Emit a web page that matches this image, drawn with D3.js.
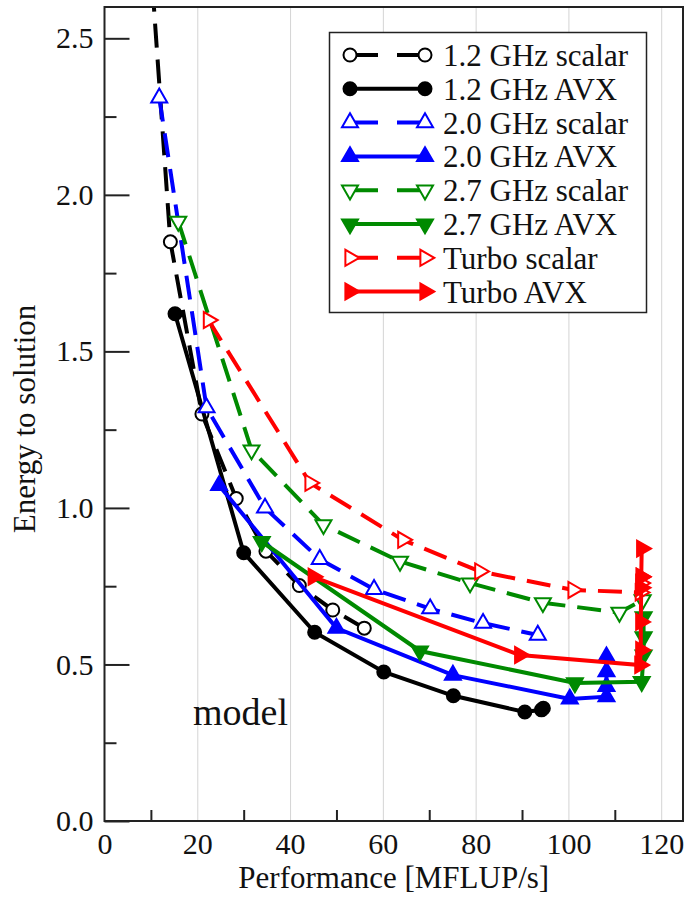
<!DOCTYPE html>
<html>
<head>
<meta charset="utf-8">
<script src="https://cdn.jsdelivr.net/npm/d3@7"></script>
<style>
  body { margin: 0; background: #fff; }
  text { font-family: "Liberation Serif", "Times New Roman", serif; fill: #111; }
</style>
</head>
<body>
<svg id="chart"></svg>
<script>
// ---- data ----
const seriesNames = ["1.2 GHz scalar", "1.2 GHz AVX", "2.0 GHz scalar", "2.0 GHz AVX",
                     "2.7 GHz scalar", "2.7 GHz AVX", "Turbo scalar", "Turbo AVX"];

const ghz12Scalar = [[7.1,3.35],[14.2,1.85],[21.0,1.30],[28.4,1.03],[34.8,0.862],[42.0,0.752],[49.2,0.674],[56.0,0.616]];
const ghz12Avx    = [[15.2,1.62],[30.0,0.857],[45.3,0.603],[60.2,0.476],[75.2,0.40],[90.6,0.348],[94.2,0.355],[94.6,0.36]];
const ghz20Scalar = [[11.8,2.31],[22.0,1.32],[34.6,1.0],[46.4,0.836],[58.1,0.74],[70.2,0.678],[81.6,0.632],[93.4,0.594]];
const ghz20Avx    = [[24.7,1.072],[50.0,0.616],[75.1,0.466],[100.3,0.39],[108.2,0.397],[108.2,0.43],[108.2,0.477],[108.2,0.525]];
const ghz27Scalar = [[15.9,1.915],[31.7,1.185],[47.2,0.946],[63.7,0.829],[78.8,0.76],[94.5,0.697],[111.0,0.666],[116.0,0.706]];
const ghz27Avx    = [[33.9,0.892],[68.0,0.543],[101.4,0.441],[115.8,0.445],[116.2,0.53],[116.2,0.588],[116.2,0.652]];
const turboScalar = [[22.4,1.60],[44.3,1.08],[64.3,0.898],[80.9,0.797],[101.0,0.738],[115.5,0.73],[115.6,0.76],[115.7,0.78]];
const turboAvx    = [[45.0,0.78],[89.5,0.53],[115.4,0.498],[115.6,0.546],[115.6,0.636],[115.7,0.745],[115.7,0.78],[115.8,0.87]];

const xTicks = [0, 20, 40, 60, 80, 100, 120];
const xMinorTicks = [10, 30, 50, 70, 90, 110];
const yTicks = [0, 0.5, 1.0, 1.5, 2.0, 2.5];
const yMinorTicks = [0.25, 0.75, 1.25, 1.75, 2.25];

const allSeries = [ghz12Scalar, ghz12Avx, ghz20Scalar, ghz20Avx, ghz27Scalar, ghz27Avx, turboScalar, turboAvx];
const colors = ["#000", "#000", "#0000ff", "#0000ff", "#008a00", "#008a00", "#ff0000", "#ff0000"];
const shapes = ["circle", "circle", "up", "up", "down", "down", "right", "right"];

const W = 687, H = 897;
const pLeft = 104.5, pRight = 683, pTop = 7, pBottom = 821;

const svg = d3.select("#chart").attr("width", W).attr("height", H);

const x = d3.scaleLinear().domain([0, 124.7]).range([pLeft, pRight]);
const y = d3.scaleLinear().domain([0, 2.6]).range([pBottom, pTop]);

// vertical grid lines
svg.append("g")
    .attr("transform", "translate(0," + pBottom + ")")
    .call(d3.axisBottom(x).tickValues(xTicks.slice(1)).tickSize(-(pBottom - pTop)).tickFormat(""))
    .call(g => g.select(".domain").remove())
    .selectAll("line").attr("stroke", "#d4d4d4").attr("stroke-width", 1);

// clip for the data
svg.append("clipPath").attr("id", "clip")
  .append("rect").attr("x", pLeft).attr("y", pTop).attr("width", pRight - pLeft).attr("height", pBottom - pTop);

function markerPath(shape) {
  const s = 8;
  if (shape === "circle") return d3.symbol(d3.symbolCircle, Math.PI * 6.5 * 6.5)();
  const h = s * Math.sqrt(3);
  if (shape === "up") return `M0,${-h*2/3}L${s},${h/3}L${-s},${h/3}Z`;
  if (shape === "down") return `M0,${h*2/3}L${s},${-h/3}L${-s},${-h/3}Z`;
  return `M${h*2/3},0L${-h/3},${s}L${-h/3},${-s}Z`;
}

const line = d3.line().x(d => x(d[0])).y(d => y(d[1]));
const plot = svg.append("g").attr("clip-path", "url(#clip)");

allSeries.forEach((pts, i) => {
  const dashed = i % 2 === 0;
  plot.append("path")
      .datum(pts)
      .attr("d", line)
      .attr("fill", "none")
      .attr("stroke", colors[i])
      .attr("stroke-width", 4)
      .attr("stroke-dasharray", dashed ? "24,12" : null);
  plot.selectAll(null)
    .data(pts)
    .join("path")
      .attr("transform", d => `translate(${x(d[0])},${y(d[1])})`)
      .attr("d", markerPath(shapes[i]))
      .attr("fill", dashed ? "#fff" : colors[i])
      .attr("stroke", colors[i])
      .attr("stroke-width", 2);
});

// y axis: major ticks with labels, minor ticks, pointing inward
svg.append("g")
    .attr("transform", "translate(" + pLeft + ",0)")
    .call(d3.axisLeft(y).tickValues(yTicks).tickSize(-25).tickPadding(11).tickFormat(d3.format(".1f")))
    .call(g => g.select(".domain").remove())
    .call(g => g.selectAll("line").attr("stroke", "#222").attr("stroke-width", 2))
    .call(g => g.selectAll("text").attr("font-size", 30).attr("font-family", "Liberation Serif").attr("fill", "#111"));
svg.append("g")
    .attr("transform", "translate(" + pLeft + ",0)")
    .call(d3.axisLeft(y).tickValues(yMinorTicks).tickSize(-12).tickFormat(""))
    .call(g => g.select(".domain").remove())
    .selectAll("line").attr("stroke", "#222").attr("stroke-width", 2);

// x axis
svg.append("g")
    .attr("transform", "translate(0," + pBottom + ")")
    .call(d3.axisBottom(x).tickValues(xTicks).tickSize(0).tickPadding(12))
    .call(g => g.select(".domain").remove())
    .call(g => g.selectAll("text").attr("font-size", 30).attr("font-family", "Liberation Serif").attr("fill", "#111"));
svg.append("g")
    .attr("transform", "translate(0," + pBottom + ")")
    .call(d3.axisBottom(x).tickValues(xMinorTicks).tickSize(-11).tickFormat(""))
    .call(g => g.select(".domain").remove())
    .selectAll("line").attr("stroke", "#222").attr("stroke-width", 2);

// frame
svg.append("rect")
    .attr("x", pLeft).attr("y", pTop).attr("width", pRight - pLeft).attr("height", pBottom - pTop)
    .attr("fill", "none").attr("stroke", "#222").attr("stroke-width", 2);

// axis titles
svg.append("text")
    .attr("x", (pLeft + pRight) / 2).attr("y", 888)
    .attr("text-anchor", "middle").attr("font-size", 31)
    .text("Performance [MFLUP/s]");
svg.append("text")
    .attr("transform", "translate(35,419) rotate(-90)")
    .attr("text-anchor", "middle").attr("font-size", 31)
    .text("Energy to solution");

svg.append("text")
    .attr("x", 193).attr("y", 725).attr("font-size", 38)
    .text("model");

// legend
const legend = svg.append("g");
legend.append("rect")
    .attr("x", 329.5).attr("y", 32.5).attr("width", 317).attr("height", 280)
    .attr("fill", "#fff").attr("stroke", "#222").attr("stroke-width", 1.5);

seriesNames.forEach((name, i) => {
  const cy = 55 + i * 33.8;
  const dashed = i % 2 === 0;
  const row = legend.append("g");
  row.append("line")
      .attr("x1", 350).attr("x2", 425).attr("y1", cy).attr("y2", cy)
      .attr("stroke", colors[i]).attr("stroke-width", 4)
      .attr("stroke-dasharray", dashed ? "28,19" : null);
  [350, 425].forEach(mx => {
    row.append("path")
        .attr("transform", `translate(${mx},${cy})`)
        .attr("d", markerPath(shapes[i]))
        .attr("fill", dashed ? "#fff" : colors[i])
        .attr("stroke", colors[i])
        .attr("stroke-width", 2);
  });
  row.append("text")
      .attr("x", 443).attr("y", cy + 11).attr("font-size", 31)
      .text(name);
});
</script>
</body>
</html>
